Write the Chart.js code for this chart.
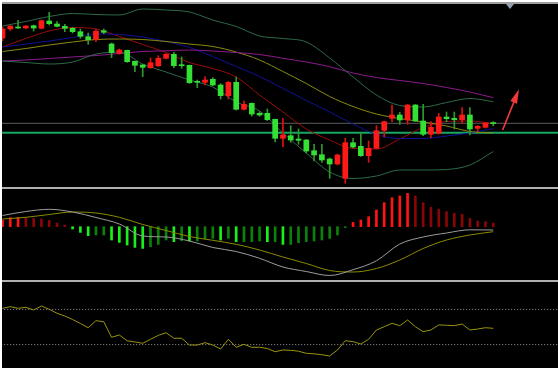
<!DOCTYPE html>
<html>
<head>
<meta charset="utf-8">
<script src="https://cdn.jsdelivr.net/npm/chart.js"></script>
<style>
  body { margin: 0; width: 558px; height: 368px; overflow: hidden; position: relative; background: #000; }
  canvas { position: absolute; left: 0; }
  .sep { position: absolute; left: 0; width: 558px; height: 2px; background: #b0b0b0; }
  .edge { position: absolute; background: #fff; z-index: 5; }
  #shift { position: absolute; left: 506px; top: 4px; width: 0; height: 0;
           border-left: 4.5px solid transparent; border-right: 4.5px solid transparent; border-top: 5px solid #8fa0b0; }
</style>
</head>
<body>
<div class="edge" style="left:0;top:0;width:558px;height:2px"></div>
<div class="edge" style="left:0;top:0;width:2px;height:368px"></div>
<div class="sep" style="top:2px;height:1.5px;background:#9c9c9c"></div>
<canvas id="main" width="558" height="183" style="top:4px"></canvas>
<div class="sep" style="top:187px"></div>
<canvas id="macd" width="558" height="91" style="top:189px"></canvas>
<div class="sep" style="top:280px"></div>
<canvas id="rsi" width="558" height="88" style="top:283px"></canvas>
<div id="shift"></div>
<script>
// candles (64 bars)
var opens = [162,171,173,172,174.3,171.7,179,176,173.7,171.7,
  168.3,163.3,160.7,169.3,156,146.7,149.7,138.7,135,132.3,
  134.3,141.7,145.7,135,134.7,118.3,117.7,120.7,115,104.3,
  117.7,90.7,96.7,86.7,86.7,80.7,61.7,64.3,61,60,
  49.3,45.3,41,36,21.7,57.3,53.7,44.3,51.7,69.7,
  81.7,85,80,95,79,65.7,66.7,83,81.7,80.3,
  85,71.7,72.7,76.7];
var closes = [171,174,172,174,172,179.3,176.3,173.7,171.7,168.3,
  163.7,160.3,168.7,167.7,147.3,150,138.3,134.7,132.7,137.3,
  141.7,145.7,134.3,134.3,117.3,117.7,120,115,104.3,117.7,
  90.7,95.7,86,85,80.3,61.7,65,60,59.7,49,
  45,40,36,45,57.3,53,44.3,51.7,69.3,78.3,
  85,80,95,79,65.7,72.7,83,81.3,80.3,85,
  71,73.7,77,76.4];
var highs = [173,174.3,179.7,174.5,175,180,187.7,178.3,175.7,172.5,
  171,167,171,171,157,151,150,139,135.5,142,
  144.3,146.5,147.7,143,135,120,123.3,122.3,116.3,118.5,
  123,99,97,88.3,91,81,81.7,74.3,71,60.5,
  55.7,55.7,42,46,61.7,61.7,66.7,59,74.3,79,
  95,87.7,95.5,95.5,95.7,78.3,86.7,88,88,92.3,
  92.3,74.5,77.5,78.3];
var lows = [159,169.7,171.5,171,169,171,175,173,168.3,167,
  161.7,155.7,158.3,166.3,142.3,145.7,137.5,128.3,123.3,131.7,
  133.5,141,132.3,131.7,116.5,112.3,115,114.3,101,101,
  90,90,84,83.7,79.5,58,53.3,57.7,55.7,47,
  39,37.7,21.7,35,16.7,52,43.5,37.7,51,63,
  78.3,75.7,75.7,78.5,64.3,62.3,66,78.3,71,76.3,
  65,68.3,72,74.3];

// indicator lines read every 3 bars
var lineIdx = [0,3,6,9,12,15,18,21,24,27,30,33,36,39,42,45,48,51,54,57,60,63];
var bbUpper = [174,178.5,183.5,186.5,185.5,185,191,190,188,180,173.5,164,161.5,158,142,123,105,94.5,93,97.5,101.5,98.3];
var bbLower = [139,137.5,136,138,146,148,136,128,120,113,98,89,67,47,28,21.5,24,30,30,30.5,35,48.5];
var maRed = [153,161.5,169,172.5,171,163.5,155.5,147.5,137.5,131.5,123,105,88,71,60,51.5,51,61,72.5,78.5,79,76.5];
var maBlue = [153,156,159,162.5,166,165.5,163,158.5,152.5,143.5,133.5,123.5,111.5,99.5,88,76,65.5,61.5,61.5,64,67,71.5];
var maOlive = [148.5,151.5,155,158,160.5,161,160.5,158.5,156,153.5,148,140,128.5,116.5,103.5,93.5,86,81.5,78,74,68.5,67];
var maPurple = [139,140,141.5,143,144.5,146.5,148.5,149.2,150,149,147.5,145.5,141.7,138,133.3,127,122.5,119.5,116.5,112.5,108,102.3];
var priceLine = 76.7;
var greenLine = 67.3;
var arrowFrom = [64.2, 70];
var arrowTo = [66.3, 110.7];

// MACD
var macdHist = [6.7,9,9.3,9,8.3,7.7,6.3,3.7,1.7,-2.3,
  -5.7,-9,-8.3,-8.3,-13.3,-15.7,-18.3,-20.7,-21.7,-20,
  -17.7,-13.3,-15,-14,-14.3,-14.3,-12.3,-11.7,-13.3,-11.7,
  -15,-15,-15,-14.3,-15,-15,-17.7,-17.7,-16,-15,
  -14.3,-13.3,-11.7,-8.3,-1,4.3,6.7,10,16.7,24,
  29,30.7,33.3,30.7,24,19.3,17.3,15,13.3,12.3,
  8.3,5.7,5,3.7];
var macdMain = [11.2,15.2,17.4,14.7,9.2,2.7,-9.3,-10.3,-14.3,-20.8,-24.8,-31.6,-40.3,-44.8,-48.8,-43,-34.1,-17.3,-10.3,-6.3,-3.1,-3.3];
var macdSignal = [7.7,9.4,12.2,14.7,13.7,9.4,2.2,-3.8,-9.8,-13.6,-17.6,-23.3,-30.3,-36.8,-43.8,-45.3,-41.8,-33.3,-21.8,-13.3,-8.3,-5];

// RSI
var rsi = [71.2,73.1,71.2,72.4,69.3,73.9,70.1,65.6,62.5,58.5,
  54,49.2,57.2,56,38.3,40.9,34.4,33,31.5,36,
  40.5,43.5,37.2,37.2,29.5,29.5,32.2,29.5,25,36,
  26.9,30.3,26.9,27,25.5,21.9,23.9,23.5,22.5,20.1,
  19.5,18.5,17,23.9,34.4,33.3,30.7,36,46.6,50.3,
  54.2,51.5,58,50.3,44.7,46.6,52.3,52,51.5,53.4,
  46.6,47.7,49.2,48.5];
var rsiLevels = [70, 30];

var xMin = -0.32, xMax = 71.31;

function pts(idx, vals) {
  return vals.map(function (v, k) { return { x: idx[k], y: v }; });
}
function flat(v) {
  return [{ x: xMin - 1, y: v }, { x: xMax + 1, y: v }];
}
function line(data, color, extra) {
  var d = { type: 'line', data: data, borderColor: color, borderWidth: 1, pointRadius: 0,
            cubicInterpolationMode: 'monotone', order: 2 };
  return Object.assign(d, extra || {});
}
function baseOpts(yMin, yMax) {
  return {
    animation: false, responsive: false, devicePixelRatio: 1,
    layout: { padding: 0 },
    plugins: { legend: { display: false }, tooltip: { enabled: false } },
    scales: {
      x: { type: 'linear', min: xMin, max: xMax, display: false, offset: false },
      y: { min: yMin, max: yMax, display: false }
    }
  };
}

var up = opens.map(function (o, i) { return closes[i] >= o; });
var bodyColors = up.map(function (u) { return u ? '#ff1a1a' : '#35e035'; });
var wickColors = up.map(function (u) { return u ? '#e01010' : '#2c9a2c'; });

var arrowPlugin = {
  id: 'arrow',
  afterDatasetsDraw: function (chart) {
    var xs = chart.scales.x, ys = chart.scales.y, ctx = chart.ctx;
    var x1 = xs.getPixelForValue(arrowFrom[0]), y1 = ys.getPixelForValue(arrowFrom[1]);
    var x2 = xs.getPixelForValue(arrowTo[0]), y2 = ys.getPixelForValue(arrowTo[1]);
    var a = Math.atan2(y2 - y1, x2 - x1), c = Math.cos(a), s = Math.sin(a);
    ctx.save();
    ctx.strokeStyle = '#f03a3a';
    ctx.fillStyle = '#f03a3a';
    ctx.lineWidth = 1.6;
    ctx.beginPath();
    ctx.moveTo(x1, y1);
    ctx.lineTo(x2 - 10 * c, y2 - 10 * s);
    ctx.stroke();
    ctx.beginPath();
    ctx.moveTo(x2, y2);
    ctx.lineTo(x2 - 14 * c + 3.6 * s, y2 - 14 * s - 3.6 * c);
    ctx.lineTo(x2 - 14 * c - 3.6 * s, y2 - 14 * s + 3.6 * c);
    ctx.closePath();
    ctx.fill();
    ctx.restore();
  }
};

new Chart(document.getElementById('main'), {
  type: 'bar',
  data: {
    datasets: [
      { data: opens.map(function (o, i) { return { x: i, y: [Math.min(o, closes[i]), Math.max(o, closes[i])] }; }),
        backgroundColor: bodyColors, barThickness: 5, minBarLength: 1, grouped: false, order: 0 },
      { data: opens.map(function (o, i) { return { x: i, y: [lows[i], highs[i]] }; }),
        backgroundColor: wickColors, barThickness: 1, grouped: false, order: 1 },
      line(pts(lineIdx, bbUpper), '#2d6a48'),
      line(pts(lineIdx, bbLower), '#2d6a48'),
      line(pts(lineIdx, maPurple), '#8e1a8e'),
      line(pts(lineIdx, maOlive), '#8c8a10'),
      line(pts(lineIdx, maBlue), '#10109a'),
      line(pts(lineIdx, maRed), '#9a0c0c'),
      line(flat(priceLine), '#5c5c5c', { order: 3 }),
      line(flat(greenLine), '#14a863', { borderWidth: 2, order: 3 })
    ]
  },
  options: baseOpts(13, 196),
  plugins: [arrowPlugin]
});

var histColors = macdHist.map(function (v, i) {
  var prev = i > 0 ? macdHist[i - 1] : 0;
  if (v >= 0) return v > prev ? '#ff1414' : '#8a0606';
  return v < prev ? '#19f019' : '#0a820a';
});

new Chart(document.getElementById('macd'), {
  type: 'bar',
  data: {
    datasets: [
      { data: macdHist.map(function (v, i) { return { x: i, y: v }; }),
        backgroundColor: histColors, barThickness: 2, order: 3 },
      line(pts(lineIdx, macdSignal), '#8c8a00', { order: 1 }),
      line(pts(lineIdx, macdMain), '#9c9c9c', { order: 0 })
    ]
  },
  options: baseOpts(-53.3, 37.7)
});

new Chart(document.getElementById('rsi'), {
  type: 'line',
  data: {
    datasets: [
      line(flat(rsiLevels[0]), '#9a9a9a', { borderDash: [1, 2], cubicInterpolationMode: 'default' }),
      line(flat(rsiLevels[1]), '#9a9a9a', { borderDash: [1, 2], cubicInterpolationMode: 'default' }),
      line(rsi.map(function (v, i) { return { x: i, y: v }; }), '#9a9410', { cubicInterpolationMode: 'default', tension: 0, order: 0 })
    ]
  },
  options: baseOpts(0, 100)
});
</script>
</body>
</html>
